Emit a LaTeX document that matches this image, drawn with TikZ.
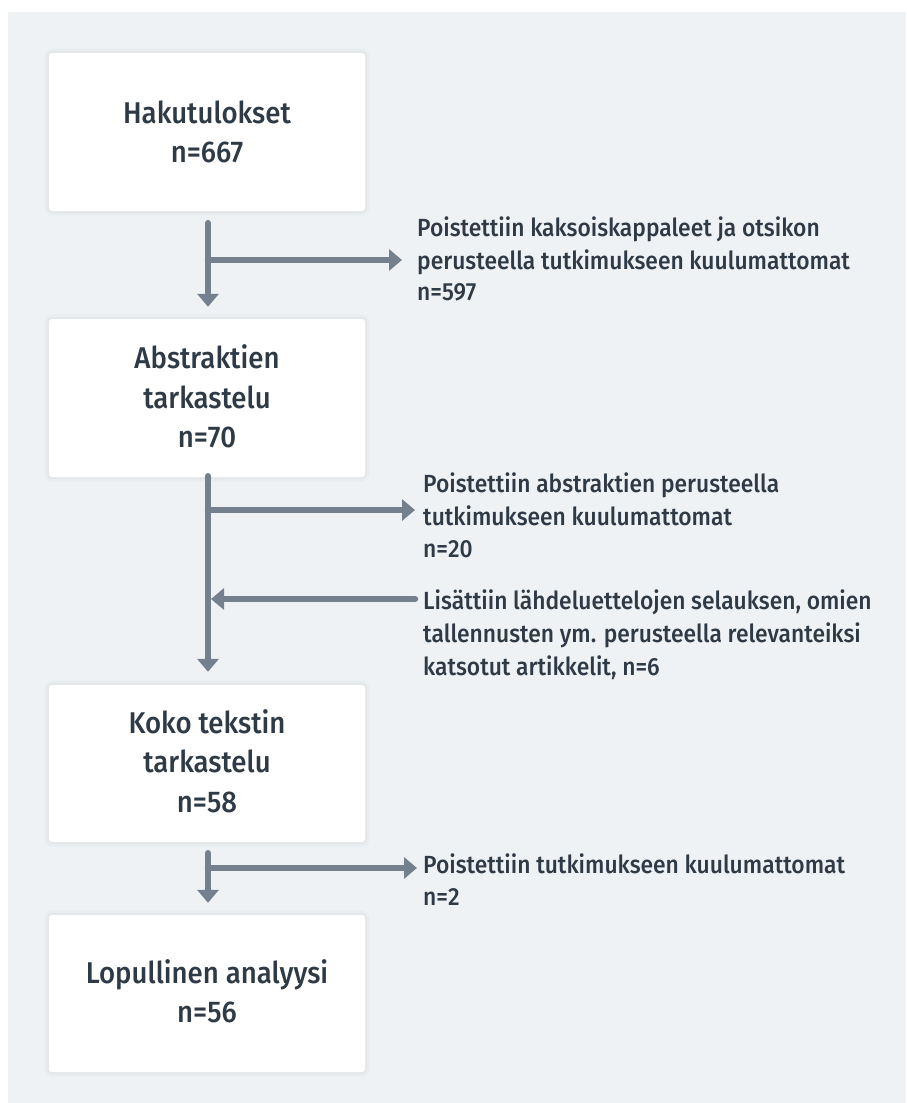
\documentclass[tikz,border=0pt]{standalone}
\usepackage{fontspec}
\setmainfont{Fira Sans Medium}[FakeStretch=0.92]
\usetikzlibrary{arrows.meta,calc}
\definecolor{panel}{HTML}{EFF2F5}
\definecolor{arrowc}{HTML}{74808D}
\definecolor{txt}{HTML}{2E3A46}
\begin{document}
\begin{tikzpicture}[x=1pt,y=-1pt,
  box/.style={fill=white, rounded corners=3pt, minimum width=316pt, minimum height=158pt, inner sep=0pt, draw=none,
    preaction={draw=black, draw opacity=0.02, line width=9pt},
    preaction={draw=black, draw opacity=0.025, line width=4pt}},
  boxline/.style={anchor=base, inner sep=0pt, text=txt, font=\fontsize{30}{35}\selectfont},
  sideline/.style={anchor=base west, inner sep=0pt, text=txt, font=\fontsize{24.8}{29}\selectfont},
  flow/.style={draw=arrowc, line width=6.5pt, line cap=round, -{Triangle[width=21pt,length=13pt]}},
]
\useasboundingbox (0,0) rectangle (906,1103);
\fill[white] (0,0) rectangle (906,1103);
\fill[panel] (8,12) rectangle (906,1103);

% boxes
\node[box] (b1) at (207,132) {};
\node[box] (b2) at (207,398) {};
\node[box, minimum height=157pt] (b3) at (207,763.5) {};
\node[box, minimum height=157pt] (b4) at (207,993.5) {};

% box texts
\node[boxline] (b1a) at (207,123) {Hakutulokset};
\node[boxline] (b1b) at (207,162) {n=667};
\node[boxline] (b2a) at (207,368) {Abstraktien};
\node[boxline] (b2b) at (207,408) {tarkastelu};
\node[boxline] (b2c) at (207,447) {n=70};
\node[boxline] (b3a) at (207,733) {Koko tekstin};
\node[boxline] (b3b) at (207,772) {tarkastelu};
\node[boxline] (b3c) at (207,812) {n=58};
\node[boxline] (b4a) at (207,983) {Lopullinen analyysi};
\node[boxline] (b4b) at (207,1022) {n=56};

% side texts
\node[sideline] (s1a) at (417,236) {Poistettiin kaksoiskappaleet ja otsikon};
\node[sideline] (s1b) at (417,269) {perusteella tutkimukseen kuulumattomat};
\node[sideline] (s1c) at (417,300) {n=597};
\node[sideline] (s2a) at (423,492) {Poistettiin abstraktien perusteella};
\node[sideline] (s2b) at (423,525) {tutkimukseen kuulumattomat};
\node[sideline] (s2c) at (423,557) {n=20};
\node[sideline] (s3a) at (423,609) {Lisättiin lähdeluettelojen selauksen, omien};
\node[sideline] (s3b) at (423,642) {tallennusten ym. perusteella relevanteiksi};
\node[sideline] (s3c) at (423,675) {katsotut artikkelit, n=6};
\node[sideline] (s4a) at (423,873) {Poistettiin tutkimukseen kuulumattomat};
\node[sideline] (s4b) at (423,905) {n=2};

% connector coordinates
\coordinate (a1top) at ($(b1.south)+(1,12)$);
\coordinate (a1bot) at ($(b2.north)+(1,-12)$);
\coordinate (a1j) at (208,260);
\coordinate (a1r) at (402,260);
\coordinate (a2top) at ($(b2.south)+(1,-1)$);
\coordinate (a2bot) at ($(b3.north)+(1,-13)$);
\coordinate (a2j) at (208,510);
\coordinate (a2r) at (415,510);
\coordinate (a3r) at (415,599);
\coordinate (a3l) at (211,599);
\coordinate (a4top) at ($(b3.south)+(1,11)$);
\coordinate (a4bot) at ($(b4.north)+(1,-12)$);
\coordinate (a4j) at (208,868);
\coordinate (a4r) at (417,868);

\draw[flow] (a1top) -- (a1bot);
\draw[flow] (a1j) -- (a1r);
\draw[flow] (a2top) -- (a2bot);
\draw[flow] (a2j) -- (a2r);
\draw[flow] (a3r) -- (a3l);
\draw[flow] (a4top) -- (a4bot);
\draw[flow] (a4j) -- (a4r);
\end{tikzpicture}
\end{document}
